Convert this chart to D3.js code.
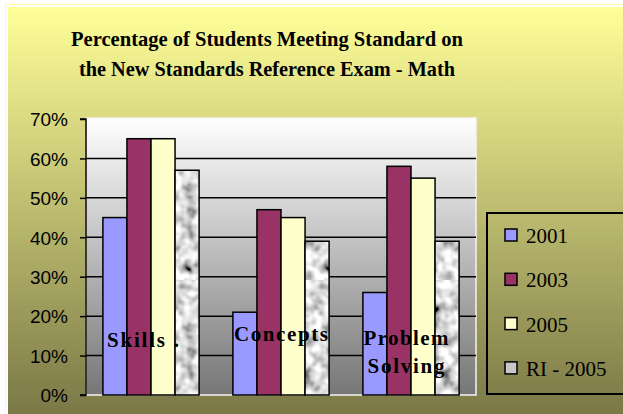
<!DOCTYPE html>
<html>
<head>
<meta charset="utf-8">
<script src="https://cdn.jsdelivr.net/npm/d3@7"></script>
<style>
  body { margin: 0; background: #fff; }
  svg { display: block; }
</style>
</head>
<body>
<div id="chart"></div>
<script>
const width = 623
const height = 414

// data
const categories = ["Skills", "Concepts", "Problem Solving"]
const seriesNames = ["2001", "2003", "2005", "RI - 2005"]
const values2001 = [45, 21, 26]
const values2003 = [65, 47, 58]
const values2005 = [65, 45, 55]
const valuesRI2005 = [57, 39, 39]
const yTicks = [0, 10, 20, 30, 40, 50, 60, 70]
const titleLines = ["Percentage of Students Meeting Standard on", "the New Standards Reference Exam - Math"]
const categoryLabels = [["Skills ."], ["Concepts"], ["Problem", "Solving"]]

const seriesValues = [values2001, values2003, values2005, valuesRI2005]
const colors = ["#9999ff", "#993366", "#ffffcc", "url(#granite)"]

const plot = {left: 86, right: 476, top: 119, bottom: 395}
const serif = "'Liberation Serif', 'Times New Roman', 'DejaVu Serif', serif"

const svg = d3.select("#chart").append("svg").attr("width", width).attr("height", height)
const defs = svg.append("defs")

// background gradient of the chart
const bg = defs.append("linearGradient").attr("id", "bgGrad").attr("x1", 0).attr("y1", 0).attr("x2", 0).attr("y2", 1)
bg.append("stop").attr("offset", "0%").attr("stop-color", "#ffff99")
bg.append("stop").attr("offset", "100%").attr("stop-color", "#7a7846")

const pg = defs.append("linearGradient").attr("id", "plotGrad").attr("x1", 0).attr("y1", 0).attr("x2", 0).attr("y2", 1)
pg.append("stop").attr("offset", "0%").attr("stop-color", "#ffffff")
pg.append("stop").attr("offset", "100%").attr("stop-color", "#767676")

// granite texture
const filt = defs.append("filter").attr("id", "noise").attr("x", 0).attr("y", 0).attr("width", 1).attr("height", 1)
filt.append("feTurbulence").attr("type", "fractalNoise").attr("baseFrequency", 0.09).attr("numOctaves", 2).attr("seed", 7)
filt.append("feColorMatrix").attr("type", "matrix")
    .attr("values", "1.0 1.0 1.0 0 -0.8  1.0 1.0 1.0 0 -0.8  1.0 1.0 1.0 0 -0.8  0 0 0 0 1")
const pat = defs.append("pattern").attr("id", "granite").attr("patternUnits", "userSpaceOnUse")
    .attr("width", 140).attr("height", 140)
pat.append("rect").attr("width", 140).attr("height", 140).attr("fill", "#b0b0b0")
pat.append("rect").attr("width", 140).attr("height", 140).attr("filter", "url(#noise)")

// chart frame
svg.append("rect").attr("x", 5.5).attr("y", 4.5).attr("width", width).attr("height", height)
    .attr("fill", "none").attr("stroke", "#ffff99")
svg.append("rect").attr("x", 8).attr("y", 7).attr("width", width - 8).attr("height", height - 7)
    .attr("fill", "url(#bgGrad)")

// title
const titleWidths = [392, 376]
svg.append("g").selectAll("text").data(titleLines).join("text")
    .attr("x", 267).attr("y", (d, i) => 46 + i * 30)
    .attr("text-anchor", "middle")
    .attr("font-family", serif)
    .attr("font-weight", "bold").attr("font-size", 22)
    .attr("textLength", (d, i) => titleWidths[i]).attr("lengthAdjust", "spacingAndGlyphs")
    .text(d => d)

// scales
const x = d3.scaleBand().domain(categories).range([plot.left, plot.right]).paddingInner(0.26).paddingOuter(0.13)
const xs = d3.scaleBand().domain(seriesNames).range([0, x.bandwidth()])
const y = d3.scaleLinear().domain([0, 70]).range([plot.bottom, plot.top])

// plot area
svg.append("rect").attr("x", plot.left).attr("y", plot.top - 1)
    .attr("width", plot.right - plot.left).attr("height", plot.bottom - plot.top + 1)
    .attr("fill", "url(#plotGrad)").attr("stroke", "#f4f4f4").attr("stroke-width", 1.5)

// gridlines
svg.append("g").selectAll("line").data(yTicks.filter(d => d > 0 && d < 70)).join("line")
    .attr("x1", plot.left).attr("x2", plot.right)
    .attr("y1", d => y(d)).attr("y2", d => y(d))
    .attr("stroke", "#000").attr("stroke-width", 1.5)

// y axis
const yAxis = d3.axisLeft(y).tickValues(yTicks).tickFormat(d => d + "%").tickSize(6).tickPadding(12)
const yAxisGroup = svg.append("g").attr("transform", `translate(${plot.left}, 0)`).call(yAxis)
yAxisGroup.select(".domain").attr("stroke", "#000").attr("stroke-width", 1.5).attr("d", `M-6,${plot.top}H0V${plot.bottom}H-6`)
yAxisGroup.selectAll(".tick line").attr("stroke", "#000").attr("stroke-width", 1.5)
yAxisGroup.selectAll(".tick text")
    .attr("font-family", "'Liberation Sans', Arial, sans-serif").attr("font-size", 19)
    .attr("fill", "#000").attr("dy", "0.36em")

// bars
const barData = []
categories.forEach((c, ci) => {
    seriesNames.forEach((s, si) => {
        barData.push({cat: c, series: s, value: seriesValues[si][ci], color: colors[si]})
    })
})
svg.append("g").selectAll("rect").data(barData).join("rect")
    .attr("x", d => x(d.cat) + xs(d.series))
    .attr("y", d => y(d.value))
    .attr("width", xs.bandwidth())
    .attr("height", d => y(0) - y(d.value))
    .attr("fill", d => d.color)
    .attr("stroke", "#000").attr("stroke-width", 1.5)

// category labels inside the plot
const labelOffsets = [-8, 0, -5]
const labelBase = [347, 341, 345]
const labelWidths = [[72], [94], [85, 77]]
const labelGroup = svg.append("g")
    .attr("font-family", serif)
    .attr("font-weight", "bold").attr("font-size", 21)
categoryLabels.forEach((lines, ci) => {
    lines.forEach((line, li) => {
        labelGroup.append("text")
            .attr("x", x(categories[ci]) + x.bandwidth() / 2 + labelOffsets[ci])
            .attr("y", labelBase[ci] + li * 28)
            .attr("text-anchor", "middle")
            .attr("textLength", labelWidths[ci][li]).attr("lengthAdjust", "spacing")
            .text(line)
    })
})

// legend
const legend = svg.append("g")
legend.append("rect").attr("x", 487).attr("y", 213).attr("width", 150).attr("height", 181)
    .attr("fill", "none").attr("stroke", "#000").attr("stroke-width", 2)
const legendItems = legend.selectAll("g.item").data(seriesNames).join("g")
    .attr("class", "item")
    .attr("transform", (d, i) => `translate(505, ${235 + i * 44.3})`)
legendItems.append("rect").attr("x", 0).attr("y", -6).attr("width", 12).attr("height", 12)
    .attr("fill", (d, i) => i == 3 ? "#c8c8c8" : colors[i])
    .attr("stroke", "#000").attr("stroke-width", 1.5)
legendItems.append("text").attr("x", 21).attr("y", 8)
    .attr("font-family", serif)
    .attr("font-size", 21)
    .text(d => d)
</script>
</body>
</html>
